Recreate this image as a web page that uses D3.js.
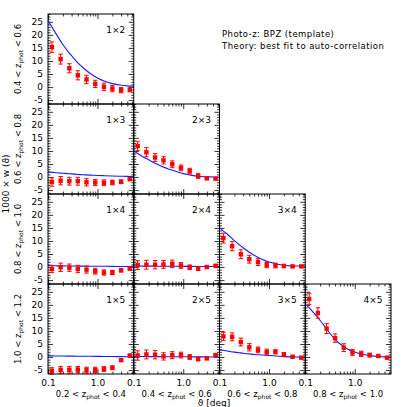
<!DOCTYPE html>
<html><head><meta charset="utf-8">
<script src="https://cdn.jsdelivr.net/npm/d3@7"></script>
<style>body{margin:0;background:#fff}</style>
</head><body><svg id="c" width="407" height="407"></svg>
<script>
// ---- data ----
const theta    = [0.12, 0.18, 0.27, 0.40, 0.60, 0.90, 1.35, 2.0, 3.0, 4.5];
const fitTheta = [0.1, 0.125, 0.15, 0.2, 0.25, 0.3, 0.4, 0.5, 0.7, 1.0, 1.4, 2.0, 3.0, 4.0, 5.4];
const zEdges   = ["0.2", "0.4", "0.6", "0.8", "1.0", "1.2"];
const yTicks   = [-5, 0, 5, 10, 15, 20, 25];
const xMajor   = [0.1, 1.0];
const xMajorLabels = ["0.1", "1.0"];
const xMinor   = [0.2, 0.3, 0.4, 0.5, 0.6, 0.7, 0.8, 0.9, 2, 3, 4, 5];

const w_1x2 = [15.3, 10.7, 7.2, 4.5, 2.9, 1.2, 0.1, -0.6, -1.2, -1.1];
const e_1x2 = [2.0, 1.9, 1.75, 1.75, 1.6, 1.4, 1.4, 1.2, 1.0, 0.7];
const fit_1x2 = [25.5, 22.5, 20.0, 16.3, 13.8, 12.0, 9.3, 7.6, 5.3, 3.5, 2.2, 1.3, 0.7, 0.45, 0.3];

const w_1x3 = [-1.9, -1.4, -1.6, -1.6, -2.0, -2.1, -2.2, -2.1, -1.8, -0.8];
const e_1x3 = [1.6, 1.6, 1.5, 1.5, 1.4, 1.2, 1.1, 0.9, 0.7, 0.4];
const fit_1x3 = [2.0, 1.8, 1.65, 1.45, 1.3, 1.2, 1.0, 0.9, 0.75, 0.6, 0.5, 0.4, 0.3, 0.25, 0.2];

const w_2x3 = [11.9, 9.5, 7.5, 6.4, 4.9, 3.5, 2.25, 0.4, -0.5, -0.6];
const e_2x3 = [1.8, 1.75, 1.5, 1.4, 1.3, 1.1, 1.1, 0.9, 0.4, 0.4];
const fit_2x3 = [10.0, 8.8, 7.9, 6.6, 5.6, 4.9, 3.8, 3.1, 2.2, 1.3, 0.75, 0.3, 0.1, 0.0, -0.1];

const w_1x4 = [-0.75, -0.1, -0.25, -0.75, -1.0, -1.6, -2.1, -2.1, -1.25, -0.6];
const e_1x4 = [1.4, 1.6, 1.4, 1.4, 1.3, 1.1, 1.0, 0.8, 0.6, 0.4];
const fit_1x4 = [0.5, 0.48, 0.46, 0.44, 0.42, 0.4, 0.38, 0.36, 0.33, 0.3, 0.28, 0.25, 0.22, 0.2, 0.2];

const w_2x4 = [0.75, 0.9, 0.9, 1.0, 1.25, 0.6, -0.1, -0.6, 0.0, 0.5];
const e_2x4 = [1.7, 1.7, 1.6, 1.5, 1.4, 1.1, 0.9, 0.7, 0.5, 0.3];
const fit_2x4 = [0.4, 0.38, 0.37, 0.35, 0.34, 0.33, 0.31, 0.3, 0.28, 0.26, 0.24, 0.22, 0.2, 0.2, 0.2];

const w_3x4 = [11.1, 8.0, 4.9, 3.0, 1.9, 0.75, 0.6, 0.4, 0.25, 0.25];
const e_3x4 = [1.9, 1.75, 1.7, 1.5, 1.3, 1.0, 0.9, 0.6, 0.4, 0.3];
const fit_3x4 = [15.1, 13.5, 12.3, 10.1, 8.6, 7.4, 5.7, 4.5, 3.1, 1.9, 1.2, 0.7, 0.45, 0.4, 0.35];

const w_1x5 = [-5.3, -4.9, -4.9, -4.8, -5.0, -4.9, -4.6, -4.1, -1.2, 0.6];
const e_1x5 = [1.2, 1.3, 1.3, 1.2, 1.1, 1.0, 0.9, 0.7, 0.5, 0.4];
const fit_1x5 = [0.45, 0.43, 0.41, 0.39, 0.37, 0.35, 0.33, 0.31, 0.28, 0.25, 0.22, 0.18, 0.15, 0.12, 0.1];

const w_2x5 = [0.6, 1.0, 0.9, 0.25, 0.75, 0.75, 0.0, -0.75, -0.5, 0.75];
const e_2x5 = [1.8, 1.7, 1.6, 1.4, 1.3, 1.1, 0.9, 0.7, 0.5, 0.3];
const fit_2x5 = [0.2, 0.19, 0.18, 0.17, 0.16, 0.15, 0.14, 0.13, 0.11, 0.1, 0.08, 0.06, 0.04, 0.02, 0.0];

const w_3x5 = [7.9, 7.75, 5.75, 3.75, 2.75, 1.9, 2.0, 1.0, 0.1, -0.25];
const e_3x5 = [1.6, 1.5, 1.5, 1.4, 1.1, 1.1, 0.8, 0.6, 0.4, 0.3];
const fit_3x5 = [2.8, 2.5, 2.25, 1.9, 1.65, 1.45, 1.2, 1.0, 0.8, 0.6, 0.4, 0.15, 0.05, 0.0, 0.0];

const w_4x5 = [22.25, 16.9, 10.9, 7.25, 3.6, 1.75, 1.25, 0.75, 0.4, -0.25];
const e_4x5 = [2.2, 2.0, 1.9, 1.6, 1.5, 1.1, 1.0, 0.7, 0.5, 0.3];
const fit_4x5 = [20.3, 18.6, 16.8, 14.0, 11.6, 9.6, 6.8, 5.1, 3.2, 1.9, 1.05, 0.55, 0.2, 0.05, 0.0];

const panels = [
  {i: 1, j: 2, w: w_1x2, e: e_1x2, fit: fit_1x2},
  {i: 1, j: 3, w: w_1x3, e: e_1x3, fit: fit_1x3},
  {i: 2, j: 3, w: w_2x3, e: e_2x3, fit: fit_2x3},
  {i: 1, j: 4, w: w_1x4, e: e_1x4, fit: fit_1x4},
  {i: 2, j: 4, w: w_2x4, e: e_2x4, fit: fit_2x4},
  {i: 3, j: 4, w: w_3x4, e: e_3x4, fit: fit_3x4},
  {i: 1, j: 5, w: w_1x5, e: e_1x5, fit: fit_1x5},
  {i: 2, j: 5, w: w_2x5, e: e_2x5, fit: fit_2x5},
  {i: 3, j: 5, w: w_3x5, e: e_3x5, fit: fit_3x5},
  {i: 4, j: 5, w: w_4x5, e: e_4x5, fit: fit_4x5}
];

// ---- layout ----
const FONT = "DejaVu Sans";
const mLeft = 48, mTop = 14, pw = 85.75, ph = 90;
const svg = d3.select("#c");
const x = d3.scaleLog().domain([0.1, 5.4]).range([0, pw]);
const y = d3.scaleLinear().domain([-6.5, 28]).range([ph, 0]);
const yMinor = d3.range(-6, 29, 1).filter(v => v % 5 !== 0);

function zLabel(sel, lo, hi) {
  sel.append("tspan").text(lo + " < z");
  sel.append("tspan").attr("font-size", 6).attr("dy", 2).text("phot");
  sel.append("tspan").attr("dy", -2).text(" < " + hi);
}

panels.forEach(p => {
  const col = p.i - 1, row = p.j - 2;
  const g = svg.append("g").attr("transform", `translate(${mLeft + col * pw},${mTop + row * ph})`);

  const axB = d3.axisBottom(x).tickValues(xMajor).tickSize(-5).tickFormat("");
  const axBm = d3.axisBottom(x).tickValues(xMinor).tickSize(-2.5).tickFormat("");
  const axT = d3.axisTop(x).tickValues(xMajor).tickSize(-5).tickFormat("");
  const axTm = d3.axisTop(x).tickValues(xMinor).tickSize(-2.5).tickFormat("");
  const axL = d3.axisLeft(y).tickValues(yTicks).tickSize(-5).tickPadding(5)
      .tickFormat(col === 0 ? (d => String(d)) : "");
  const axLm = d3.axisLeft(y).tickValues(yMinor).tickSize(-2.5).tickFormat("");
  const axR = d3.axisRight(y).tickValues(yTicks).tickSize(-5).tickFormat("");
  const axRm = d3.axisRight(y).tickValues(yMinor).tickSize(-2.5).tickFormat("");
  [[axB, `0,${ph}`], [axBm, `0,${ph}`], [axT, "0,0"], [axTm, "0,0"],
   [axL, "0,0"], [axLm, "0,0"], [axR, `${pw},0`], [axRm, `${pw},0`]].forEach(([a, t]) => {
    const ag = g.append("g").attr("transform", `translate(${t})`).call(a);
    ag.select(".domain").remove();
    ag.selectAll("line").attr("stroke", "#000").attr("stroke-width", 0.8);
    ag.selectAll("text").attr("font-family", FONT).attr("font-size", 9).attr("fill", "#000");
  });

  if (row === 3) {
    const ag = g.append("g").attr("transform", `translate(0,${ph})`)
      .call(d3.axisBottom(x).tickValues(xMajor).tickSize(0).tickPadding(6)
        .tickFormat((d, k) => xMajorLabels[k]));
    ag.select(".domain").remove();
    ag.selectAll("text").attr("font-family", FONT).attr("font-size", 9).attr("fill", "#000");
  }

  const line = d3.line().x((d, k) => x(fitTheta[k])).y(d => y(d)).curve(d3.curveMonotoneX);
  g.append("path").attr("d", line(p.fit)).attr("fill", "none")
    .attr("stroke", "#1a1aff").attr("stroke-width", 1.1);

  const eb = g.append("g").attr("stroke", "#f00").attr("stroke-width", 1);
  p.w.forEach((v, k) => {
    const cx = x(theta[k]);
    eb.append("line").attr("x1", cx).attr("x2", cx).attr("y1", y(v - p.e[k])).attr("y2", y(v + p.e[k]));
    eb.append("line").attr("x1", cx - 2.2).attr("x2", cx + 2.2).attr("y1", y(v - p.e[k])).attr("y2", y(v - p.e[k]));
    eb.append("line").attr("x1", cx - 2.2).attr("x2", cx + 2.2).attr("y1", y(v + p.e[k])).attr("y2", y(v + p.e[k]));
  });
  g.append("g").selectAll("rect").data(p.w).join("rect")
    .attr("x", (d, k) => x(theta[k]) - 2.2).attr("y", d => y(d) - 2.2)
    .attr("width", 4.4).attr("height", 4.4).attr("fill", "#f00");

  g.append("rect").attr("width", pw).attr("height", ph).attr("fill", "none")
    .attr("stroke", "#000").attr("stroke-width", 1);

  g.append("text").attr("x", pw - 18).attr("y", 19).attr("text-anchor", "middle")
    .attr("font-family", FONT).attr("font-size", 9).text(p.i + "×" + p.j);
});

// row labels (redshift bin of the second galaxy sample)
for (let r = 0; r < 4; r++) {
  const t = svg.append("text").attr("font-family", FONT).attr("font-size", 8.5)
    .attr("text-anchor", "middle")
    .attr("transform", `translate(21,${mTop + r * ph + ph / 2}) rotate(-90)`);
  zLabel(t, zEdges[r + 1], zEdges[r + 2]);
}
// column labels
for (let c = 0; c < 4; c++) {
  const t = svg.append("text").attr("font-family", FONT).attr("font-size", 8.5)
    .attr("text-anchor", "middle").attr("x", mLeft + c * pw + pw / 2).attr("y", 397);
  zLabel(t, zEdges[c], zEdges[c + 1]);
}
svg.append("text").attr("font-family", FONT).attr("font-size", 9).attr("text-anchor", "middle")
  .attr("transform", `translate(9,${mTop + 2 * ph - 10}) rotate(-90)`).text("1000 × w (ϑ)");
svg.append("text").attr("font-family", FONT).attr("font-size", 9).attr("text-anchor", "middle")
  .attr("x", 214).attr("y", 406).text("ϑ [deg]");

svg.append("text").attr("font-family", FONT).attr("font-size", 8.5).attr("letter-spacing", 0.45)
  .attr("x", 222).attr("y", 37).text("Photo-z: BPZ (template)");
svg.append("text").attr("font-family", FONT).attr("font-size", 8.5).attr("letter-spacing", 0.45)
  .attr("x", 222).attr("y", 49).text("Theory: best fit to auto-correlation");
</script></body></html>
